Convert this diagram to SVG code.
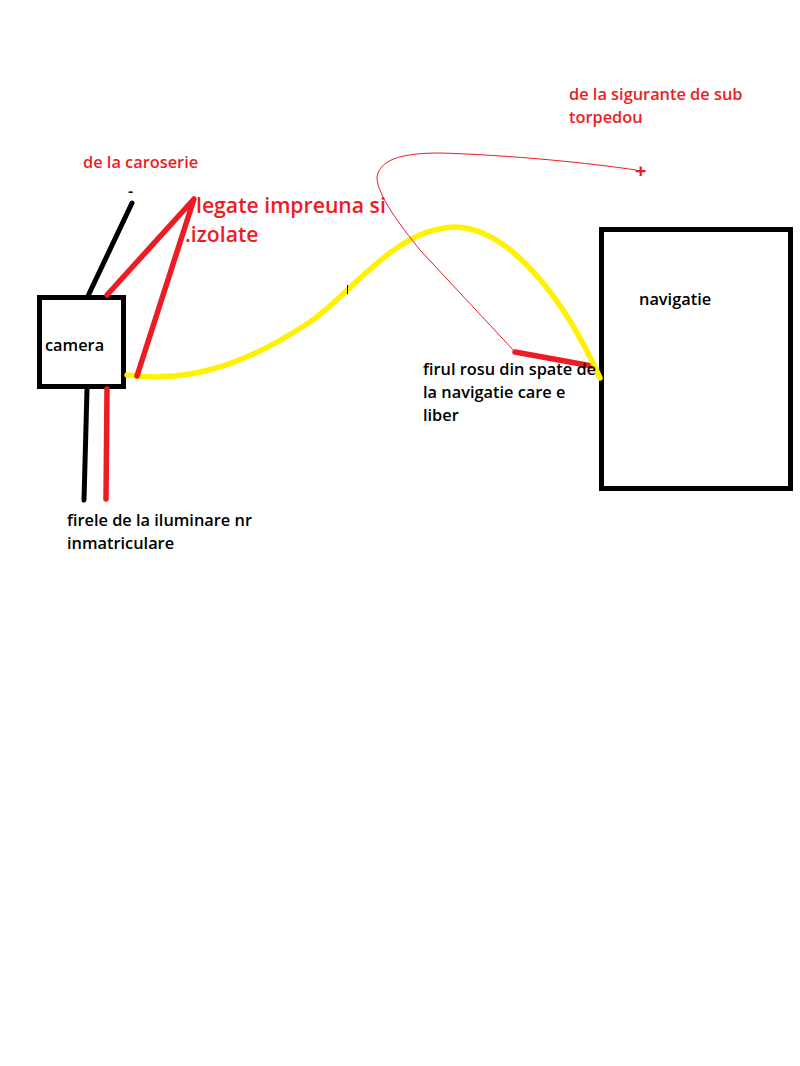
<svg xmlns="http://www.w3.org/2000/svg" width="800" height="1066" viewBox="0 0 800 1066">
<style>
.t{font-family:"Open Sans","Noto Sans",sans-serif;font-weight:600;font-size:16.350px}
.big{font-size:21.200px}
.k{fill:#000}.r{fill:#ed1c24}
.box{fill:none;stroke:#000;stroke-width:5}
.w{fill:none;stroke-linecap:round;stroke-linejoin:round}
</style>
<rect width="800" height="1066" fill="#fff"/>
<g id="camera"><rect class="box" x="39.500" y="297.500" width="84" height="89"/><text class="t k" x="45" y="351">camera</text></g>
<g id="navigatie"><rect class="box" x="601.500" y="229.500" width="189" height="259"/><text class="t k" x="639" y="305">navigatie</text></g>
<g id="connectors">
<path class="w" d="M88 296L132 203" stroke="#000" stroke-width="5"/>
<path class="w" d="M87 389L84 500" stroke="#000" stroke-width="5"/>
<path class="w" d="M107 389L106 499" stroke="#ed1c24" stroke-width="5.500"/>
<path class="w" d="M515 352L592 366" stroke="#ed1c24" stroke-width="5.500"/>
<path class="w" d="M127 375C200 385 260 355 310 322C350 295 395 228 455 227C510 228 565 300 600 378" stroke="#fff200" stroke-width="5.500"/>
<path class="w" d="M107 295L194 199L137 376" stroke="#ed1c24" stroke-width="5.500"/>
<path class="w" d="M515 352L420 250C400 225 377 195 377 177C380 160 400 153 440 153C510 155 590 163 636 170" stroke="#ed1c24" stroke-width="1"/>
<path d="M347.500 285V294" stroke="#000" stroke-width="1" fill="none"/>
</g>
<g id="labels">
<text class="t r" x="83" y="168">de la caroserie</text>
<text class="t k" x="128" y="197">-</text>
<text class="t r big" x="196" y="213">legate impreuna si</text>
<text class="t r big" x="185" y="242">.izolate</text>
<text class="t r" x="569" y="100">de la sigurante de sub</text>
<text class="t r" x="569" y="123">torpedou</text>
<text class="t r" x="635" y="178" style="font-size:20px;font-weight:700">+</text>
<text class="t k" x="423" y="375">firul rosu din spate de</text>
<text class="t k" x="423" y="398">la navigatie care e</text>
<text class="t k" x="423" y="421">liber</text>
<text class="t k" x="67" y="526">firele de la iluminare nr</text>
<text class="t k" x="67" y="549">inmatriculare</text>
</g>
</svg>
